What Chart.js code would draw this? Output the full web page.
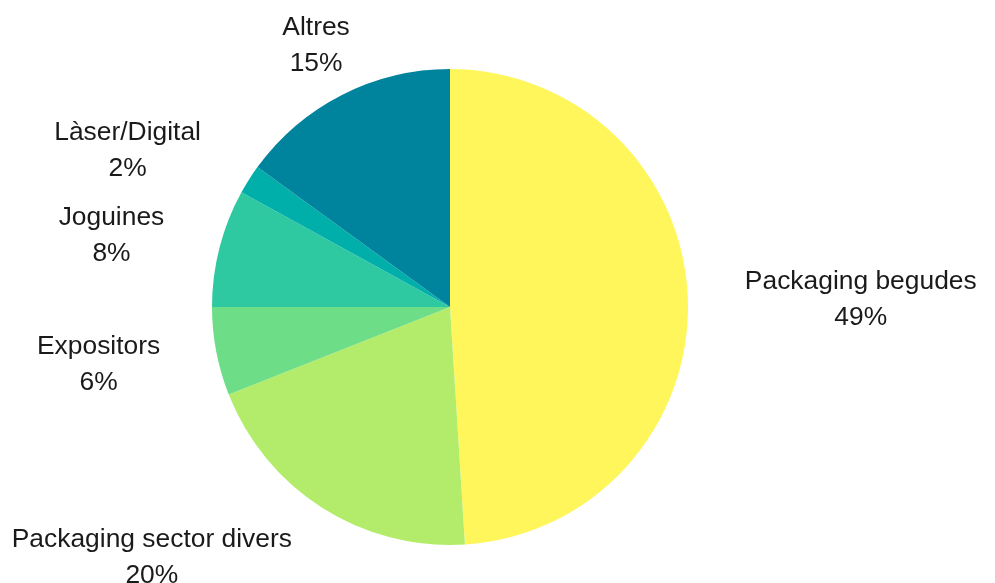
<!DOCTYPE html>
<html>
<head>
<meta charset="utf-8">
<script src="https://cdn.jsdelivr.net/npm/chart.js@4"></script>
<style>
  html, body { margin: 0; padding: 0; background: #fff; }
  #wrap { width: 995px; height: 583px; position: relative; }
</style>
</head>
<body>
<div id="wrap"><canvas id="pieChart"></canvas></div>
<script>
const labels = ['Packaging begudes', 'Packaging sector divers', 'Expositors', 'Joguines', 'Làser/Digital', 'Altres'];
const shares = [49, 20, 6, 8, 2, 15];
const colors = ['#fef65b', '#b2ec6a', '#6ddd88', '#2ec9a0', '#00aeaa', '#00839c'];

const FONT = '26.4px "Liberation Sans", Arial, sans-serif';
const LINE_H = 36;

// draws "name / pct" outside each slice
const outsideLabels = {
    id: 'outsideLabels',
    afterDatasetsDraw(chart) {
        const ctx = chart.ctx;
        const meta = chart.getDatasetMeta(0);
        ctx.save();
        ctx.font = FONT;
        ctx.fillStyle = '#1a1a1a';
        ctx.textBaseline = 'middle';
        ctx.textAlign = 'center';
        meta.data.forEach((arc, i) => {
            const mid = (arc.startAngle + arc.endAngle) / 2;
            const dist = arc.outerRadius + 57;
            const ax = arc.x + Math.cos(mid) * dist;
            const ay = arc.y + Math.sin(mid) * dist;
            const lines = [labels[i], shares[i] + '%'];
            const w = Math.max(...lines.map(t => ctx.measureText(t).width));
            let cx = ax;
            const c = Math.cos(mid);
            if (c > 0.5) cx = ax + w / 2;
            else if (c < -0.5) cx = ax - w / 2;
            const top = ay - LINE_H / 2 + 2;
            lines.forEach((t, k) => ctx.fillText(t, cx, top + k * LINE_H));
        });
        ctx.restore();
    }
};

new Chart(
    document.getElementById('pieChart'),
    {
        type: 'pie',
        data: {
            labels: labels,
            datasets: [{
                data: shares,
                backgroundColor: colors,
                borderWidth: 0,
            }]
        },
        options: {
            responsive: true,
            maintainAspectRatio: false,
            animation: false,
            layout: {
                padding: { left: 212, right: 307, top: 69, bottom: 38 }
            },
            plugins: {
                legend: { display: false },
                tooltip: { enabled: false }
            }
        },
        plugins: [outsideLabels]
    });
</script>
</body>
</html>
